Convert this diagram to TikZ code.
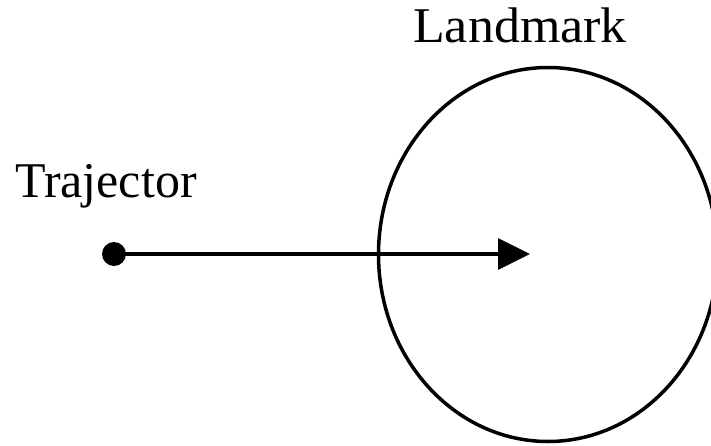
\documentclass[tikz,border=0pt]{standalone}
\usepackage{fontspec}
\setmainfont{Liberation Serif}
\usetikzlibrary{arrows.meta}
\begin{document}
\begin{tikzpicture}[x=1pt,y=1pt,
  lbl/.style={font=\fontsize{50}{60}\selectfont, inner sep=0pt, anchor=base west},
  stroke/.style={line width=3.5pt, black}]
\useasboundingbox (0,0) rectangle (711,445);
\begin{scope}
\clip (0,0) rectangle (711,445);
\draw[stroke] (548,190.5) ellipse [x radius=169.5, y radius=187];
\end{scope}
\node[lbl] (tl) at (15,248) {Trajector};
\node[lbl, xscale=1.04] (ll) at (413,402) {Landmark};
\node[circle, fill=black, minimum size=24pt, inner sep=0pt] (dot) at (114,191) {};
\coordinate (tip) at (530,191);
\draw[stroke, -{Triangle[length=32pt, width=31pt]}] (dot.center) -- (tip);
\end{tikzpicture}
\end{document}
